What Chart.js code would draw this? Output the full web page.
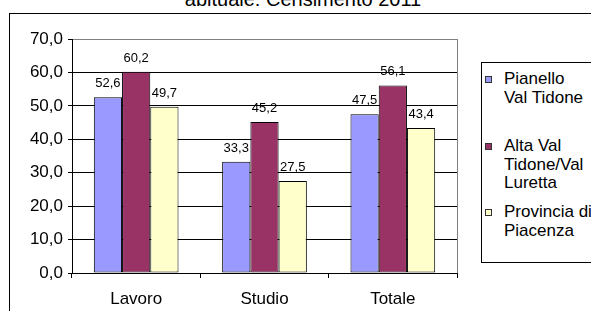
<!DOCTYPE html>
<html>
<head>
<meta charset="utf-8">
<script src="https://cdn.jsdelivr.net/npm/chart.js@4/dist/chart.umd.min.js"></script>
<style>
  html, body { margin: 0; padding: 0; background: #fff; }
  body { width: 591px; height: 311px; position: relative; overflow: hidden;
         font-family: 'Liberation Sans', Arial, sans-serif; color: #000; }
  #title { position: absolute; left: 0; width: 606px; top: -11px; text-align: center;
           font-size: 20px; line-height: 20px; white-space: nowrap; }
  #frame { position: absolute; left: 9px; top: 13px; width: 700px; height: 400px;
           border: 1px solid #000; box-sizing: border-box; }
  #wrap { position: absolute; left: 0; top: 0; width: 591px; height: 311px; }
  #legend { position: absolute; left: 481px; top: 62px; width: 140px; height: 201px;
            border: 1px solid #000; box-sizing: border-box; background: #fff; }
  .leg-item { position: absolute; left: 0; font-size: 17px; line-height: 18.5px; }
  .leg-sw { position: absolute; left: 3px; top: 6px; width: 7px; height: 7px;
            border: 1px solid #333; box-sizing: border-box; }
  .leg-txt { position: absolute; left: 22px; top: 0; white-space: nowrap; }
</style>
</head>
<body>
<div id="title">abituale: Censimento 2011</div>
<div id="frame"></div>
<div id="wrap"><canvas id="chart"></canvas></div>
<div id="legend"></div>
<script>
// categories and series (percentuali)
const CATEGORIES = ['Lavoro', 'Studio', 'Totale'];
const SERIES_NAMES = [['Pianello', 'Val Tidone'], ['Alta Val', 'Tidone/Val', 'Luretta'], ['Provincia di', 'Piacenza']];
const SERIES_COLORS = ['#9999FF', '#993366', '#FFFFCC'];
const PIANELLO = [52.6, 33.3, 47.5];
const ALTA_VAL = [60.2, 45.2, 56.1];
const PROVINCIA = [49.7, 27.5, 43.4];
const Y_TICKS = [0, 10, 20, 30, 40, 50, 60, 70];

const fmt = v => v.toFixed(1).replace('.', ',');

// value labels above bars
const valueLabels = {
  id: 'valueLabels',
  afterDatasetsDraw(chart) {
    const ctx = chart.ctx;
    ctx.save();
    ctx.font = "13px 'Liberation Sans', Arial, sans-serif";
    ctx.fillStyle = '#000';
    ctx.textAlign = 'center';
    ctx.textBaseline = 'alphabetic';
    chart.data.datasets.forEach((ds, i) => {
      chart.getDatasetMeta(i).data.forEach((bar, j) => {
        ctx.fillText(fmt(ds.data[j]), bar.x, bar.y - 10);
      });
    });
    ctx.restore();
  }
};

// grey plot-area border on the right
const plotBorder = {
  id: 'plotBorder',
  beforeDatasetsDraw(chart) {
    const a = chart.chartArea, ctx = chart.ctx;
    ctx.save();
    ctx.strokeStyle = '#808080';
    ctx.lineWidth = 1;
    ctx.beginPath();
    ctx.moveTo(Math.round(a.right) + 0.5, a.top);
    ctx.lineTo(Math.round(a.right) + 0.5, a.bottom);
    ctx.stroke();
    ctx.restore();
  }
};

const datasets = [PIANELLO, ALTA_VAL, PROVINCIA].map((data, i) => ({
  label: SERIES_NAMES[i].join(' '),
  data,
  backgroundColor: SERIES_COLORS[i],
  borderColor: '#000',
  borderWidth: 1,
  borderSkipped: false,
  categoryPercentage: 0.66,
  barPercentage: 1.0,
}));

new Chart(document.getElementById('chart'), {
  type: 'bar',
  data: { labels: CATEGORIES, datasets },
  plugins: [valueLabels, plotBorder],
  options: {
    responsive: true,
    maintainAspectRatio: false,
    animation: false,
    layout: { padding: { left: 0, top: 39, right: 134, bottom: 0 } },
    font: { family: "'Liberation Sans', Arial, sans-serif" },
    scales: {
      x: {
        offset: true,
        grid: { offset: true, drawOnChartArea: false, drawTicks: true, tickLength: 5, color: '#000' },
        border: { color: '#000' },
        ticks: { color: '#000', padding: 11, font: { size: 17, family: "'Liberation Sans', Arial, sans-serif" } },
        afterFit: s => { s.height = 38; }
      },
      y: {
        min: 0, max: 70,
        afterBuildTicks: s => { s.ticks = Y_TICKS.map(v => ({ value: v })); },
        grid: {
          color: c => c.tick && c.tick.value === 70 ? '#808080' : '#000',
          tickColor: '#000',
          tickLength: 4,
        },
        border: { color: '#000' },
        ticks: {
          color: '#000', padding: 5,
          font: { size: 17, family: "'Liberation Sans', Arial, sans-serif" },
          callback: v => fmt(v)
        },
        afterFit: s => { s.width = 72; }
      }
    },
    plugins: {
      legend: { display: false },
      title: { display: false },
      tooltip: { enabled: false }
    }
  }
});

// legend box
const legendEl = document.getElementById('legend');
const LEGEND_TOPS = [7, 74, 140];
SERIES_NAMES.forEach((lines, i) => {
  const item = document.createElement('div');
  item.className = 'leg-item';
  item.style.top = LEGEND_TOPS[i] + 'px';
  item.innerHTML = `<span class="leg-sw" style="background:${SERIES_COLORS[i]}"></span>` +
    `<span class="leg-txt">${lines.join('<br>')}</span>`;
  legendEl.appendChild(item);
});
</script>
</body>
</html>
